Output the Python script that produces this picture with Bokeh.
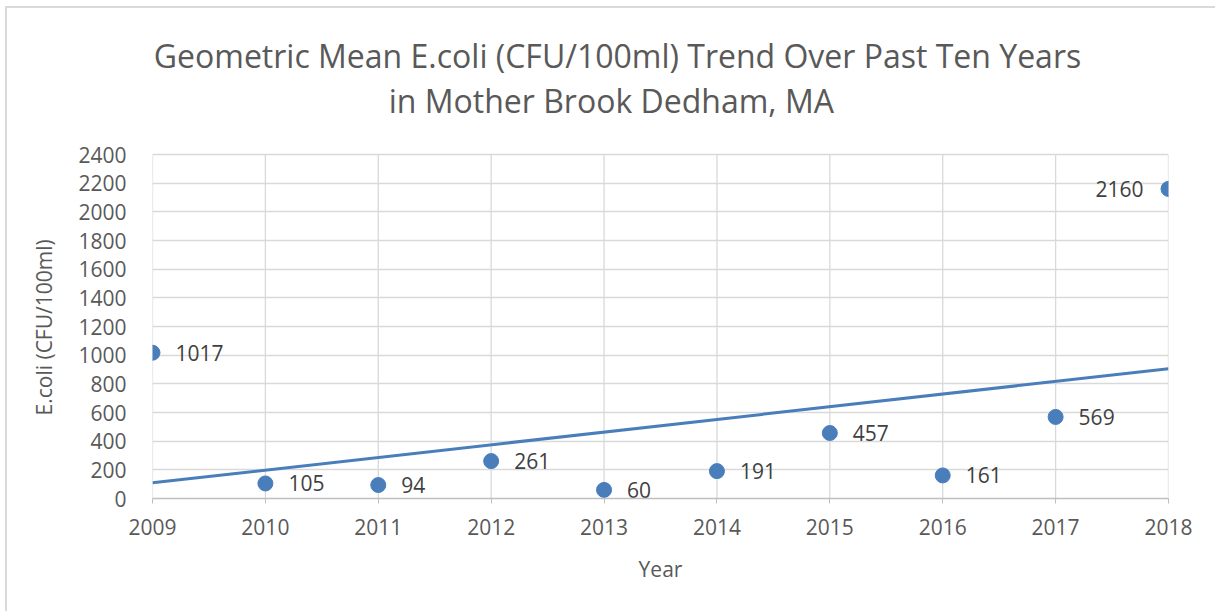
import numpy as np
from bokeh.plotting import figure
from bokeh.models import ColumnDataSource, FixedTicker, Label, Title
from bokeh.core.properties import value
from bokeh.embed import file_html
from bokeh.resources import INLINE

years = [2009, 2010, 2011, 2012, 2013, 2014, 2015, 2016, 2017, 2018]
ecoli = [1017, 105, 94, 261, 60, 191, 457, 161, 569, 2160]
title_lines = ["Geometric Mean E.coli (CFU/100ml) Trend Over Past Ten Years",
               "in  Mother Brook Dedham, MA"]
x_title = "Year"
y_title = "E.coli (CFU/100ml)"
y_ticks = list(range(0, 2401, 200))

FONT = "Open Sans"
BLUE = "#4a7ebb"
GRID = "#d9d9d9"
TXT = "#595959"

# layout (pixels inside the figure)
W, H = 1208, 603
BORDER_L, BORDER_B, BORDER_R = 145, 113, 47
FRAME_H = H - BORDER_B            # frame spans to the top so the title can sit inside it
AXIS_H = 344                      # pixel height of the 0..2400 value span
Y_MAX = y_ticks[-1]
y_end = Y_MAX * FRAME_H / AXIS_H

def py_to_data(py):               # figure-pixel row -> data y
    return (FRAME_H - py) * Y_MAX / AXIS_H

p = figure(width=W, height=H, x_range=(years[0], years[-1]), y_range=(0, y_end),
           output_backend="svg", toolbar_location=None, title=None,
           min_border_left=BORDER_L, min_border_top=0, min_border_right=BORDER_R,
           min_border_bottom=BORDER_B)
p.outline_line_color = None
p.background_fill_color = "white"
p.border_fill_color = "white"
p.styles = {"margin-left": "7px", "margin-top": "8px", "outline": "2px solid #d9d9d9"}

# axes
p.xaxis.ticker = FixedTicker(ticks=years)
p.yaxis.ticker = FixedTicker(ticks=y_ticks)
p.xgrid.visible = False
p.ygrid.ticker = FixedTicker(ticks=y_ticks)
p.ygrid.grid_line_color = GRID
p.ygrid.grid_line_width = 1.3
# vertical grid lines limited to the value span
p.segment(x0=years, y0=[0] * len(years), x1=years, y1=[Y_MAX] * len(years),
          line_color=GRID, line_width=1.3)
p.xaxis.axis_line_color = "#bfbfbf"
p.xaxis.axis_line_width = 1.3
p.xaxis.major_tick_line_color = "#bfbfbf"
p.xaxis.major_tick_out = 5
p.xaxis.major_tick_in = 0
p.xaxis.minor_tick_line_color = None
p.yaxis.axis_line_color = None
p.yaxis.major_tick_line_color = None
p.yaxis.minor_tick_line_color = None
for ax in (p.xaxis, p.yaxis):
    ax.major_label_text_font = FONT
    ax.major_label_text_font_size = "21px"
    ax.major_label_text_color = TXT
    ax.axis_label_text_font = FONT
    ax.axis_label_text_font_size = "21px"
    ax.axis_label_text_color = TXT
    ax.axis_label_text_font_style = "normal"
p.xaxis.major_label_standoff = 15
p.yaxis.major_label_standoff = 20
p.xaxis.axis_label = x_title
p.xaxis.axis_label_standoff = 17

# y-axis title, placed along the 0..2400 value span (the frame is taller than it)
p.add_layout(Title(text=y_title, align="left", offset=83, standoff=35,
                   text_font=FONT, text_font_size="21px", text_color=TXT,
                   text_font_style="normal"), "left")

# trendline (linear fit of the data)
k, b = np.polyfit(np.array(years) - years[0], np.array(ecoli), 1)
tx = [years[0], years[-1]]
ty = [b, b + k * (years[-1] - years[0])]
p.line(tx, ty, line_color=BLUE, line_width=3)

src = ColumnDataSource(dict(x=years, y=ecoli, lab=[str(v) for v in ecoli],
                            xo=[23] * (len(years) - 1) + [-25],
                            al=["left"] * (len(years) - 1) + ["right"]))
p.scatter("x", "y", source=src, size=15, fill_color=BLUE, line_color=BLUE)
p.text("x", "y", text="lab", source=src, x_offset="xo", text_align="al",
       text_baseline="middle", text_font=value(FONT), text_font_size="21px",
       text_color="#404040")

# two-line chart title
def px_to_year(px):
    return years[0] + (years[-1] - years[0]) * (px - 152) / (1168 - 152)

for t, px, py in zip(title_lines, [617, 615], [47, 92]):
    p.add_layout(Label(x=px_to_year(px), y=py_to_data(py), text=t, text_align="center",
                       text_baseline="middle", text_font=FONT, text_font_size="32px",
                       text_color=TXT))

open("out.html", "w").write(file_html(p, INLINE))
